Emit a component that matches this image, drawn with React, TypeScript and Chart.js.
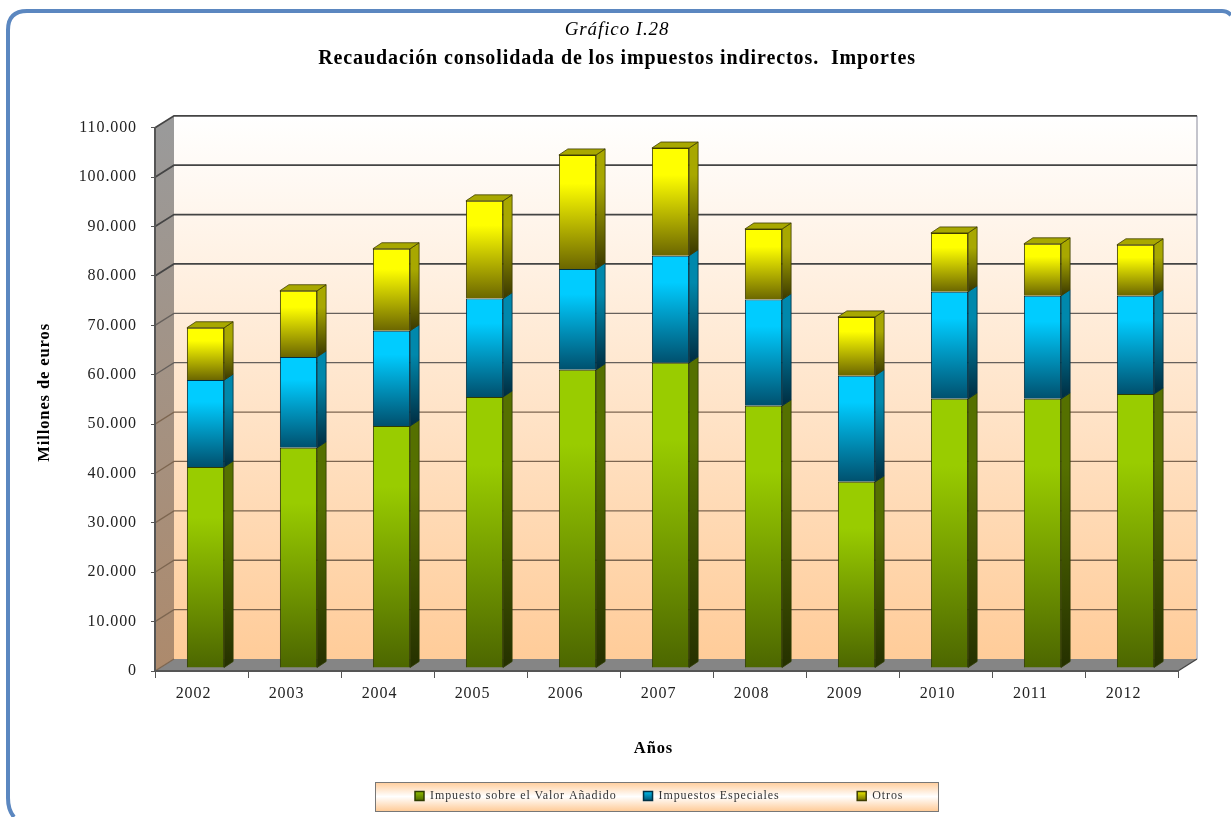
import React, { useEffect, useRef } from "react";
import { Chart, registerables } from "chart.js";

Chart.register(...registerables);

const years = ["2002", "2003", "2004", "2005", "2006", "2007", "2008", "2009", "2010", "2011", "2012"];
const iva = [40700, 44600, 49000, 54900, 60400, 61800, 53100, 37700, 54500, 54500, 55500];
const especiales = [17600, 18400, 19300, 19900, 20400, 21700, 21500, 21500, 21700, 20900, 19900];
const otros = [10600, 13400, 16600, 19800, 23100, 21800, 14300, 11900, 11900, 10500, 10300];

const seriesValues = [iva, especiales, otros];
const seriesNames = ["Impuesto sobre el Valor Añadido", "Impuestos Especiales", "Otros"];
// front top, front bottom, side top, side bottom, border, roof
const palettes = [
  ["#99cc00", "#4c6600", "#557000", "#253000", "#2f3c00", "#88aa00"],
  ["#00ccff", "#00506e", "#0088ac", "#002c40", "#003044", "#0099cc"],
  ["#ffff00", "#6b6600", "#a8a800", "#3a3800", "#3f3d00", "#a8a800"],
];

const FONT = "'Liberation Serif', serif";
const DEPTH_X = 19;
const DEPTH_Y = 12;
const BAR_SHIFT_X = 4;
const BAR_SHIFT_Y = 3;
const SIDE_X = 9;
const SIDE_Y = 6;
const PANEL = { left: 375, top: 782, right: 938, bottom: 811 };

function cumulative(series: number, index: number) {
  let sum = 0;
  for (let i = 0; i <= series; i++) sum += seriesValues[i][index];
  return sum;
}

function applySpacing(chart: any) {
  chart.ctx.letterSpacing = "0.9px";
}

function shiftTitle(chart: any, scale: any, dx: number, dy: number) {
  if (scale.__shifted) return;
  scale.__shifted = true;
  const original = scale.drawTitle;
  scale.drawTitle = function () {
    chart.ctx.save();
    chart.ctx.translate(dx, dy);
    original.call(this);
    chart.ctx.restore();
  };
}

const scenePlugin = {
  id: "scene",
  beforeUpdate: applySpacing,
  beforeLayout: applySpacing,
  afterLayout(chart: any) {
    const legend = chart.legend;
    legend.left = 388;
    legend.right = 960;
    legend.top = 763;
    legend.bottom = 811;
    legend.width = 572;
    legend.height = 48;
    chart.boxes.forEach((box: any) => {
      if (box.options && box.options.position === "top") {
        box.left = 0;
        box.right = 1234;
        box.width = 1234;
      }
    });
    shiftTitle(chart, chart.scales.x, -13, 0);
    shiftTitle(chart, chart.scales.y, -1, -7);
  },
  beforeDraw(chart: any) {
    applySpacing(chart);
    const { ctx, chartArea: a, scales } = chart;
    const y = scales.y;

    // frame
    ctx.save();
    ctx.strokeStyle = "#5b87c0";
    ctx.lineWidth = 4;
    ctx.beginPath();
    ctx.moveTo(14, 817);
    ctx.quadraticCurveTo(8, 810, 8, 798);
    ctx.lineTo(8, 30);
    ctx.quadraticCurveTo(8, 11, 27, 11);
    ctx.lineTo(1222, 11);
    ctx.quadraticCurveTo(1227, 11, 1231, 15);
    ctx.stroke();
    ctx.restore();

    const top = y.getPixelForValue(110000);
    const bottom = y.getPixelForValue(0);

    // back wall
    const wall = ctx.createLinearGradient(0, top - DEPTH_Y, 0, bottom - DEPTH_Y);
    wall.addColorStop(0, "#ffffff");
    wall.addColorStop(1, "#ffcc99");
    ctx.fillStyle = wall;
    ctx.fillRect(a.left + DEPTH_X, top - DEPTH_Y, a.right - a.left, bottom - top);

    // right rim
    ctx.strokeStyle = "#c4c4cc";
    ctx.lineWidth = 2;
    ctx.beginPath();
    ctx.moveTo(a.right + DEPTH_X, top - DEPTH_Y);
    ctx.lineTo(a.right + DEPTH_X, bottom - DEPTH_Y);
    ctx.stroke();

    // left wall
    const side = ctx.createLinearGradient(0, top, 0, bottom);
    side.addColorStop(0, "#9a9a9a");
    side.addColorStop(1, "#ad8a6c");
    ctx.fillStyle = side;
    ctx.beginPath();
    ctx.moveTo(a.left, top);
    ctx.lineTo(a.left + DEPTH_X, top - DEPTH_Y);
    ctx.lineTo(a.left + DEPTH_X, bottom - DEPTH_Y);
    ctx.lineTo(a.left, bottom);
    ctx.closePath();
    ctx.fill();

    // floor
    ctx.fillStyle = "#858585";
    ctx.beginPath();
    ctx.moveTo(a.left, bottom);
    ctx.lineTo(a.left + DEPTH_X, bottom - DEPTH_Y);
    ctx.lineTo(a.right + DEPTH_X, bottom - DEPTH_Y);
    ctx.lineTo(a.right, bottom);
    ctx.closePath();
    ctx.fill();

    // gridlines folded over the wall
    y.ticks.forEach((t: any) => {
      const py = y.getPixelForValue(t.value);
      const level = t.value / 110000;
      ctx.strokeStyle = level > 0.7 ? "#444444" : level > 0.5 ? "#66605c" : "#7d6650";
      ctx.lineWidth = level > 0.7 ? 1.7 : 1.3;
      ctx.beginPath();
      ctx.moveTo(a.left, py);
      ctx.lineTo(a.left + DEPTH_X, py - DEPTH_Y);
      if (t.value !== 0) ctx.lineTo(a.right + DEPTH_X, py - DEPTH_Y);
      ctx.stroke();
    });
    // floor right edge
    ctx.strokeStyle = "#444444";
    ctx.lineWidth = 1.3;
    ctx.beginPath();
    ctx.moveTo(a.right, bottom);
    ctx.lineTo(a.right + DEPTH_X, bottom - DEPTH_Y);
    ctx.stroke();

    // legend panel
    const panel = ctx.createLinearGradient(0, PANEL.top, 0, PANEL.bottom);
    panel.addColorStop(0, "#ffcc99");
    panel.addColorStop(0.5, "#ffffff");
    panel.addColorStop(1, "#ffcc99");
    ctx.fillStyle = panel;
    ctx.fillRect(PANEL.left, PANEL.top, PANEL.right - PANEL.left, PANEL.bottom - PANEL.top);
    ctx.strokeStyle = "#777777";
    ctx.lineWidth = 1;
    ctx.strokeRect(PANEL.left + 0.5, PANEL.top + 0.5, PANEL.right - PANEL.left, PANEL.bottom - PANEL.top);
  },
  beforeDatasetsDraw(chart: any) {
    const { ctx } = chart;
    ctx.save();
    ctx.translate(BAR_SHIFT_X, -BAR_SHIFT_Y);
  },
  afterDatasetsDraw(chart: any) {
    const { ctx } = chart;
    seriesValues.forEach((_, s) => {
      const pal = palettes[s];
      chart.getDatasetMeta(s).data.forEach((bar: any) => {
        const right = bar.x + bar.width / 2;
        const left = bar.x - bar.width / 2;
        const grad = ctx.createLinearGradient(0, bar.y, 0, bar.base);
        grad.addColorStop(0, pal[2]);
        grad.addColorStop(0.25, pal[2]);
        grad.addColorStop(1, pal[3]);
        ctx.fillStyle = grad;
        ctx.beginPath();
        ctx.moveTo(right, bar.y);
        ctx.lineTo(right + SIDE_X, bar.y - SIDE_Y);
        ctx.lineTo(right + SIDE_X, bar.base - SIDE_Y);
        ctx.lineTo(right, bar.base);
        ctx.closePath();
        ctx.fill();
        ctx.strokeStyle = pal[4];
        ctx.lineWidth = 0.8;
        ctx.stroke();
        if (s === seriesValues.length - 1) {
          ctx.fillStyle = pal[5];
          ctx.beginPath();
          ctx.moveTo(left, bar.y);
          ctx.lineTo(left + SIDE_X, bar.y - SIDE_Y);
          ctx.lineTo(right + SIDE_X, bar.y - SIDE_Y);
          ctx.lineTo(right, bar.y);
          ctx.closePath();
          ctx.fill();
          ctx.stroke();
        }
      });
    });
    ctx.restore();
  },
};

function frontGradient(series: number) {
  return (c: any) => {
    if (c.type !== "data") return palettes[series][0];
    const chart = c.chart;
    const y = chart.scales.y;
    const i = c.dataIndex;
    const top = y.getPixelForValue(cumulative(series, i));
    const bottom = y.getPixelForValue(cumulative(series, i) - seriesValues[series][i]);
    const g = chart.ctx.createLinearGradient(0, top, 0, bottom);
    g.addColorStop(0, palettes[series][0]);
    g.addColorStop(0.25, palettes[series][0]);
    g.addColorStop(1, palettes[series][1]);
    return g;
  };
}

export default function App() {
  const ref = useRef<HTMLCanvasElement | null>(null);
  useEffect(() => {
    const chart = new Chart(ref.current as HTMLCanvasElement, {
      type: "bar",
      data: {
        labels: years,
        datasets: seriesValues.map((values, s) => ({
          label: seriesNames[s],
          data: values,
          stack: "total",
          backgroundColor: frontGradient(s),
          borderColor: palettes[s][4],
          borderWidth: 1,
          barPercentage: 0.4,
          categoryPercentage: 1,
        })),
      },
      options: {
        animation: false,
        responsive: false,
        devicePixelRatio: 1,
        layout: { padding: { left: 32, right: 53, top: 19, bottom: 6 } },
        plugins: {
          tooltip: { enabled: false },
          title: {
            display: true,
            text: "Gráfico I.28",
            color: "#000000",
            font: { family: FONT, size: 19, style: "italic", weight: "normal" },
            padding: { top: 0, bottom: 5 },
          },
          subtitle: {
            display: true,
            text: "Recaudación consolidada de los impuestos indirectos.  Importes",
            color: "#000000",
            font: { family: FONT, size: 20, weight: "bold" },
            padding: { top: 0, bottom: 57 },
          },
          legend: {
            display: true,
            position: "bottom",
            align: "start",
            labels: {
              font: { family: FONT, size: 12 },
              color: "#333333",
              boxWidth: 9,
              boxHeight: 9,
              padding: 27,
              generateLabels: (chart: any) =>
                seriesNames.map((text, s) => {
                  const g = chart.ctx.createLinearGradient(0, 790, 0, 801);
                  g.addColorStop(0, palettes[s][0]);
                  g.addColorStop(1, palettes[s][1]);
                  return {
                    text: s === 1 ? text.padEnd(text.length + 13, " ") : text,
                    fillStyle: g,
                    strokeStyle: palettes[s][4],
                    fontColor: "#333333",
                    lineWidth: 1.5,
                    datasetIndex: s,
                  };
                }),
            },
          },
        },
        scales: {
          x: {
            stacked: true,
            grid: { display: true, drawOnChartArea: false, color: "#555555", tickLength: 7 },
            border: { color: "#555555", width: 2 },
            ticks: {
              color: "#222222",
              font: { family: FONT, size: 16 },
              labelOffset: -8,
              padding: 6,
              maxRotation: 0,
            },
            title: {
              display: true,
              text: "Años",
              color: "#000000",
              font: { family: FONT, size: 16.5, weight: "bold" },
              padding: { top: 30, bottom: 3 },
            },
            afterFit: (s: any) => {
              s.height = 91;
            },
          },
          y: {
            stacked: true,
            min: 0,
            max: 110000,
            grid: { display: true, drawOnChartArea: false, color: "#555555", tickLength: 4 },
            border: { color: "#555555", width: 2 },
            ticks: {
              stepSize: 10000,
              color: "#222222",
              font: { family: FONT, size: 16 },
              padding: 14,
              callback: (v: any) => Number(v).toLocaleString("es-ES", { useGrouping: "always" } as any),
            },
            title: {
              display: true,
              text: "Millones de euros",
              color: "#000000",
              font: { family: FONT, size: 16.5, weight: "bold" },
            },
            afterFit: (s: any) => {
              s.width = 123;
            },
          },
        },
      },
      plugins: [scenePlugin],
    } as any);
    return () => chart.destroy();
  }, []);
  return (
    <div style={{ position: "absolute", left: 0, top: 0, width: 1231, height: 817, overflow: "hidden", background: "#fff" }}>
      <canvas ref={ref} width={1231} height={817} style={{ display: "block" }} />
    </div>
  );
}
